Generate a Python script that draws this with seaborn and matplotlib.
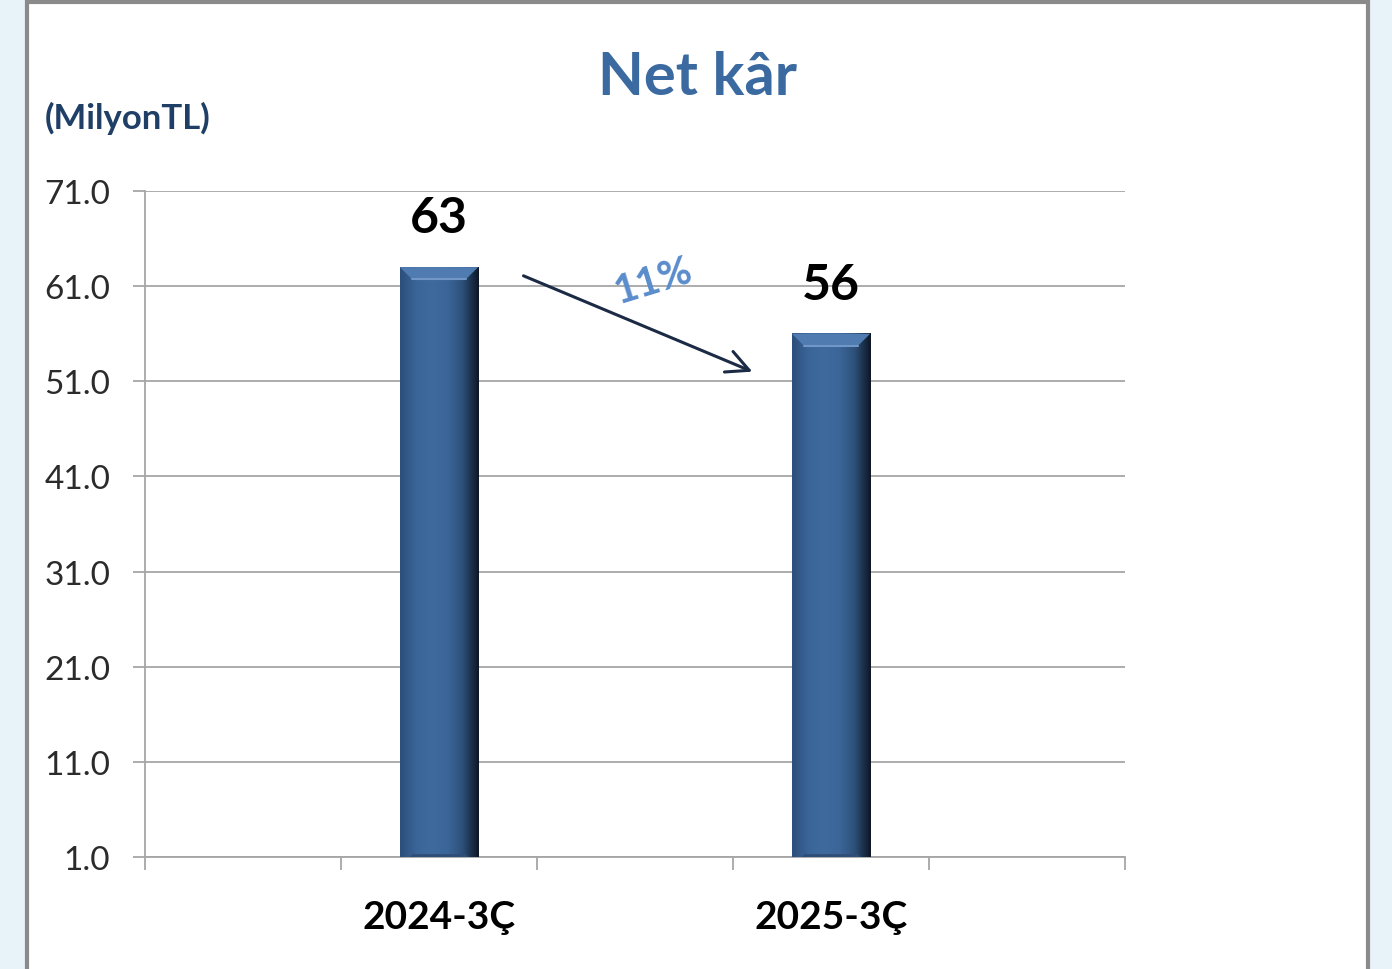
import matplotlib
matplotlib.use('Agg')
import matplotlib.pyplot as plt
import matplotlib.colors as mcolors
from matplotlib.patches import Rectangle, Polygon
import seaborn as sns
import numpy as np

# Chart data
periods = ['2024-3Ç', '2025-3Ç']
values = [63, 56]
y_ticks = [1, 11, 21, 31, 41, 51, 61, 71]

BAR_COLOR = '#3c6699'
GRID = '#a6a6a6'

sns.set_style('white')
plt.rcParams['font.family'] = ['Lato', 'DejaVu Sans']

fig = plt.figure(figsize=(13.92, 9.70), dpi=100)
fig.patch.set_facecolor('#e8f2f9')

# white framed panel
fig.patches.append(Rectangle((27 / 1392, -0.01), 1341 / 1392, 1.0 - 3 / 970 + 0.01,
                             transform=fig.transFigure, facecolor='white',
                             edgecolor='#8a8a8a', lw=3, zorder=-5))

ax = fig.add_axes([145 / 1392, 112 / 970, 980 / 1392, 666 / 970])
ax.set_zorder(2)
ax.set_facecolor('none')

sns.barplot(x=periods, y=values, width=0.2, color=BAR_COLOR, saturation=1,
            edgecolor='none', ax=ax, zorder=3)

# bevel look on each bar
ramp = mcolors.LinearSegmentedColormap.from_list(
    'bevel', ['#2c4f7c', '#3a6598', '#3e6a9e', '#3c6699', '#2d5079', '#0e1827'])
grad = np.linspace(0, 1, 64).reshape(1, -1)
for p in list(ax.patches):
    x0, y0 = p.get_x(), p.get_y()
    w, h = p.get_width(), p.get_height()
    ax.imshow(grad, cmap=ramp, extent=[x0, x0 + w, y0, y0 + h],
              aspect='auto', zorder=3.1, interpolation='bicubic')
    top = y0 + h
    dx, dy = w * 0.16, 1.3
    ax.add_patch(Polygon([(x0, top), (x0 + w, top), (x0 + w - dx, top - dy),
                          (x0 + dx, top - dy)], closed=True,
                         facecolor='#4f7bb1', edgecolor='none', zorder=3.2))
    ax.plot([x0 + dx, x0 + w - dx], [top - dy, top - dy], color='#7197c7',
            lw=1.5, zorder=3.3)
    ax.add_patch(Polygon([(x0, y0), (x0 + w, y0), (x0 + w - dx, y0 + dy),
                          (x0 + dx, y0 + dy)], closed=True,
                         facecolor='#2e4e78', edgecolor='none', zorder=3.2))

ax.set_xlim(-0.75, 1.75)
ax.set_ylim(1, 71)

# axes styling
ax.set_yticks(y_ticks)
ax.set_yticklabels(['{:.1f}'.format(t) for t in y_ticks], fontsize=24,
                   color='#2b2b2b')
ax.yaxis.grid(True, color=GRID, lw=1.3, zorder=0)
ax.set_axisbelow(True)
ax.tick_params(axis='y', left=True, length=9, width=1.3, color=GRID, pad=16)
ax.set_xticks([0, 1])
ax.set_xticklabels(periods, fontsize=28, fontweight='bold', color='black')
ax.set_xticks(np.arange(-0.75, 1.76, 0.5), minor=True)
ax.tick_params(axis='x', which='major', length=0, pad=30)
ax.tick_params(axis='x', which='minor', bottom=True, length=9, width=1.3,
               color=GRID)
ax.set_xlabel('')
ax.set_ylabel('')
for side in ['top', 'right']:
    ax.spines[side].set_visible(False)
for side in ['left', 'bottom']:
    ax.spines[side].set_color(GRID)
    ax.spines[side].set_linewidth(1.3)

# value labels
for i, v in enumerate(values):
    ax.text(i, v + 5.2, str(v), ha='center', va='center', fontsize=36,
            fontweight='bold', color='black', zorder=5)

# change arrow and percentage
change = round(abs(values[1] - values[0]) / values[0] * 100)
ax.annotate('', xy=(0.806, values[1] - 4.1), xytext=(0.209, values[0] - 0.8),
            arrowprops=dict(arrowstyle='->', color='#1c2b45', lw=2.2,
                            mutation_scale=40), zorder=5)
ax.text(0.545, values[0] - 1.4, '{}%'.format(change), ha='center',
        va='center', rotation=17, fontsize=29, fontweight='bold',
        color='#5a8ccc', zorder=5)

fig.text(698 / 1392, 1 - 78 / 970, 'Net kâr', ha='center', va='center',
         fontsize=43, fontweight='bold', color='#3b6aa0')
fig.text(45 / 1392, 1 - 118 / 970, '(MilyonTL)', ha='left', va='center',
         fontsize=25, fontweight='bold', color='#1f3f66')

fig.savefig('out.png', dpi=100, facecolor=fig.get_facecolor())
